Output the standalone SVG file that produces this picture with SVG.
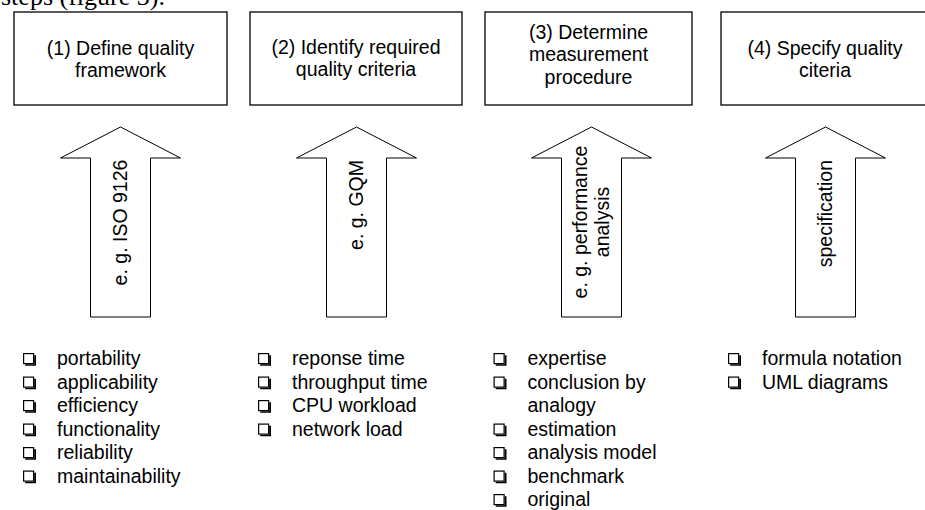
<svg xmlns="http://www.w3.org/2000/svg" width="925" height="510" viewBox="0 0 925 510">
<style>
.box{fill:#fff;stroke:#000;stroke-width:1.3}
.arr{fill:#fff;stroke:#000;stroke-width:1}
.t{font-family:"Liberation Sans",Arial,sans-serif;font-size:19.5px;fill:#000}
.c{text-anchor:middle}
.hdr{font-family:"Liberation Serif","Times New Roman",serif;font-size:26px;fill:#000}
</style>
<defs>
<g id="bul">
<rect x="0.6" y="0.6" width="10" height="10" fill="none" stroke="#000" stroke-width="1.2"/>
<path d="M11.2,2.2 H13 V12.8 H2.2 V11.2 H11.2 Z" fill="#000"/>
</g>
</defs>
<rect width="925" height="510" fill="#fff"/>
<text class="hdr" x="1" y="5">steps (figure 3).</text>

<g id="node1">
<rect class="box" x="14" y="12" width="213" height="93"/>
<text class="t c" x="120.5" y="55">(1) Define quality</text>
<text class="t c" x="120.5" y="77">framework</text>
</g>
<g id="node2">
<rect class="box" x="250" y="12" width="212" height="93"/>
<text class="t c" x="356" y="54">(2) Identify required</text>
<text class="t c" x="356" y="76">quality criteria</text>
</g>
<g id="node3">
<rect class="box" x="485" y="12" width="207" height="93"/>
<text class="t c" x="588.5" y="38.5">(3) Determine</text>
<text class="t c" x="588.5" y="61">measurement</text>
<text class="t c" x="588.5" y="83.5">procedure</text>
</g>
<g id="node4">
<rect class="box" x="721" y="12" width="215" height="93"/>
<text class="t c" x="825" y="55">(4) Specify quality</text>
<text class="t c" x="825" y="77">citeria</text>
</g>

<g id="connectors">
<g id="arrow1">
<path class="arr" d="M120.5,127 L180.5,158 L150.5,158 L150.5,317 L90.5,317 L90.5,158 L60.5,158 Z"/>
<text class="t c" transform="translate(120.5,222.5) rotate(-90)" x="0" y="6.7">e. g. ISO 9126</text>
</g>
<g id="arrow2">
<path class="arr" d="M356.5,127 L416.5,158 L386.5,158 L386.5,317 L326.5,317 L326.5,158 L296.5,158 Z"/>
<text class="t" text-anchor="end" transform="translate(356.5,160) rotate(-90)" x="0" y="6.7">e. g. GQM</text>
</g>
<g id="arrow3">
<path class="arr" d="M591.5,127 L651.5,158 L621.5,158 L621.5,317 L561.5,317 L561.5,158 L531.5,158 Z"/>
<text class="t c" transform="translate(591.5,222) rotate(-90)" x="0" y="-4.5">e. g. performance</text>
<text class="t c" transform="translate(591.5,222) rotate(-90)" x="0" y="17.5">analysis</text>
</g>
<g id="arrow4">
<path class="arr" d="M825.5,127 L885.5,158 L855.5,158 L855.5,317 L795.5,317 L795.5,158 L765.5,158 Z"/>
<text class="t" text-anchor="end" transform="translate(825.5,160) rotate(-90)" x="0" y="6.7">specification</text>
</g>
</g>

<g id="list1">
<use href="#bul" x="23" y="353"/><text class="t" x="57" y="365">portability</text>
<use href="#bul" x="23" y="376.5"/><text class="t" x="57" y="388.5">applicability</text>
<use href="#bul" x="23" y="400"/><text class="t" x="57" y="412">efficiency</text>
<use href="#bul" x="23" y="423.5"/><text class="t" x="57" y="435.5">functionality</text>
<use href="#bul" x="23" y="447"/><text class="t" x="57" y="459">reliability</text>
<use href="#bul" x="23" y="470.5"/><text class="t" x="57" y="482.5">maintainability</text>
</g>
<g id="list2">
<use href="#bul" x="258" y="353"/><text class="t" x="292" y="365">reponse time</text>
<use href="#bul" x="258" y="376.5"/><text class="t" x="292" y="388.5">throughput time</text>
<use href="#bul" x="258" y="400"/><text class="t" x="292" y="412">CPU workload</text>
<use href="#bul" x="258" y="423.5"/><text class="t" x="292" y="435.5">network load</text>
</g>
<g id="list3">
<use href="#bul" x="493.5" y="353"/><text class="t" x="527.5" y="365">expertise</text>
<use href="#bul" x="493.5" y="376.5"/><text class="t" x="527.5" y="388.5">conclusion by</text>
<text class="t" x="527.5" y="412">analogy</text>
<use href="#bul" x="493.5" y="423.5"/><text class="t" x="527.5" y="435.5">estimation</text>
<use href="#bul" x="493.5" y="447"/><text class="t" x="527.5" y="459">analysis model</text>
<use href="#bul" x="493.5" y="470.5"/><text class="t" x="527.5" y="482.5">benchmark</text>
<use href="#bul" x="493.5" y="494"/><text class="t" x="527.5" y="506">original</text>
</g>
<g id="list4">
<use href="#bul" x="728" y="353"/><text class="t" x="762" y="365">formula notation</text>
<use href="#bul" x="728" y="376.5"/><text class="t" x="762" y="388.5">UML diagrams</text>
</g>
</svg>
